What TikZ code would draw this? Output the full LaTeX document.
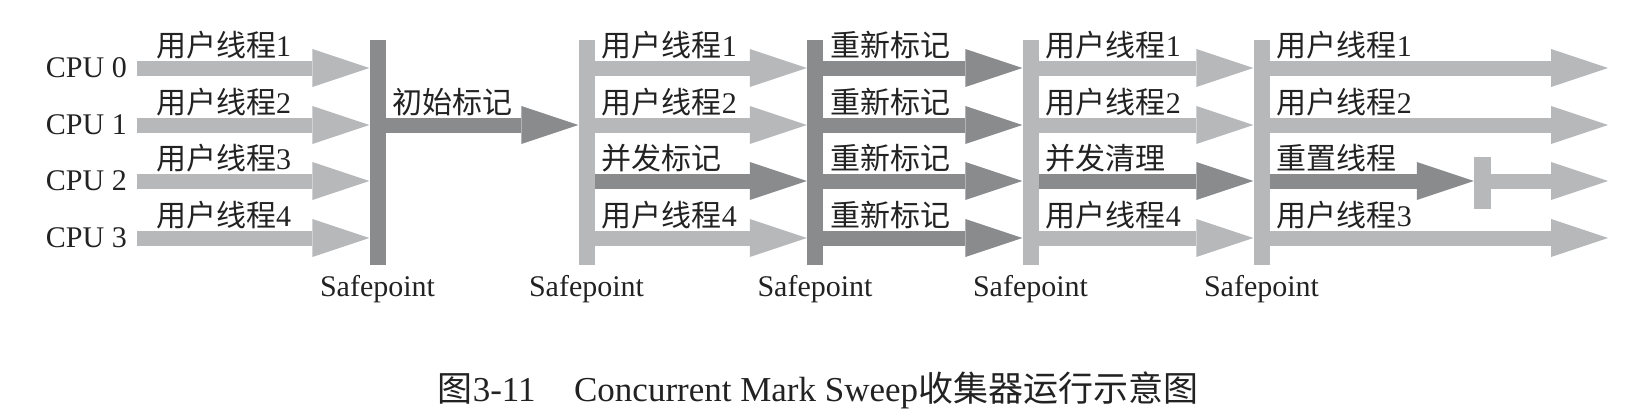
\documentclass[tikz,border=0pt]{standalone}
\usepackage{fontspec}
\setmainfont{Liberation Serif}
\newfontfamily\cjk{Noto Sans CJK SC}
\usepackage{tikz}
\usetikzlibrary{arrows.meta, positioning}
\definecolor{threadgray}{RGB}{182,184,186}
\definecolor{gcgray}{RGB}{138,139,141}
\definecolor{inkgray}{RGB}{34,34,34}

\begin{document}
\begin{tikzpicture}[x=1pt, y=-1pt,
        every node/.style={inner sep=0pt, text=inkgray, font=\fontsize{30}{35}\selectfont},
        bar/.style={minimum width=16pt, minimum height=225pt},
        thread/.style={line width=15pt, threadgray, -{Triangle[length=57pt, width=38pt, line width=0pt]}},
        gc/.style={thread, gcgray},
        tlabel/.style={anchor=west, xshift=7pt, yshift=23pt},
        cpu/.style={anchor=east, font=\fontsize{30}{34}\selectfont},
        sp/.style={below=10pt of #1, font=\fontsize{30}{34}\selectfont}
      ]
        \useasboundingbox (0,0) rectangle (1631,415);

        % Rows
        \coordinate (row_0) at (0,68);
        \coordinate (row_1) at (0,125);
        \coordinate (row_2) at (0,181);
        \coordinate (row_3) at (0,238);

        % CPU labels
        \node (cpu_0) [cpu] at (127,68) {CPU 0};
        \node (cpu_1) [cpu] at (127,125) {CPU 1};
        \node (cpu_2) [cpu] at (127,181) {CPU 2};
        \node (cpu_3) [cpu] at (127,238) {CPU 3};

        % Safepoint bars
        \node (sp_1) [bar, fill=gcgray] at (377.5,152.5) {};
        \node (sp_2) [bar, fill=threadgray] at (586.5,152.5) {};
        \node (sp_3) [bar, fill=gcgray] at (815,152.5) {};
        \node (sp_4) [bar, fill=threadgray] at (1030.5,152.5) {};
        \node (sp_5) [bar, fill=threadgray] at (1261.5,152.5) {};
        \node (halt) [fill=threadgray, minimum width=17pt, minimum height=52pt] at (1482.5,183) {};

        \node (sp_1_txt) [sp=sp_1] {Safepoint};
        \node (sp_2_txt) [sp=sp_2] {Safepoint};
        \node (sp_3_txt) [sp=sp_3] {Safepoint};
        \node (sp_4_txt) [sp=sp_4] {Safepoint};
        \node (sp_5_txt) [sp=sp_5] {Safepoint};

        % User threads up to the first safepoint
        \draw [thread, shorten <=10pt] (cpu_0.east) -- (sp_1.west |- row_0);
        \draw [thread, shorten <=10pt] (cpu_1.east) -- (sp_1.west |- row_1);
        \draw [thread, shorten <=10pt] (cpu_2.east) -- (sp_1.west |- row_2);
        \draw [thread, shorten <=10pt] (cpu_3.east) -- (sp_1.west |- row_3);
        \node [tlabel, xshift=22pt] at (cpu_0.east |- row_0) {{\cjk 用户线程}1};
        \node [tlabel, xshift=22pt] at (cpu_1.east |- row_1) {{\cjk 用户线程}2};
        \node [tlabel, xshift=22pt] at (cpu_2.east |- row_2) {{\cjk 用户线程}3};
        \node [tlabel, xshift=22pt] at (cpu_3.east |- row_3) {{\cjk 用户线程}4};

        % Initial mark
        \draw [gc] (sp_1.east |- row_1) -- (sp_2.west |- row_1);
        \node [tlabel] at (sp_1.east |- row_1) {\cjk 初始标记};

        % Concurrent mark
        \draw [thread] (sp_2.east |- row_0) -- (sp_3.west |- row_0);
        \draw [thread] (sp_2.east |- row_1) -- (sp_3.west |- row_1);
        \draw [gc] (sp_2.east |- row_2) -- (sp_3.west |- row_2);
        \draw [thread] (sp_2.east |- row_3) -- (sp_3.west |- row_3);
        \node [tlabel] at (sp_2.east |- row_0) {{\cjk 用户线程}1};
        \node [tlabel] at (sp_2.east |- row_1) {{\cjk 用户线程}2};
        \node [tlabel] at (sp_2.east |- row_2) {\cjk 并发标记};
        \node [tlabel] at (sp_2.east |- row_3) {{\cjk 用户线程}4};

        % Remark
        \draw [gc] (sp_3.east |- row_0) -- (sp_4.west |- row_0);
        \draw [gc] (sp_3.east |- row_1) -- (sp_4.west |- row_1);
        \draw [gc] (sp_3.east |- row_2) -- (sp_4.west |- row_2);
        \draw [gc] (sp_3.east |- row_3) -- (sp_4.west |- row_3);
        \node [tlabel] at (sp_3.east |- row_0) {\cjk 重新标记};
        \node [tlabel] at (sp_3.east |- row_1) {\cjk 重新标记};
        \node [tlabel] at (sp_3.east |- row_2) {\cjk 重新标记};
        \node [tlabel] at (sp_3.east |- row_3) {\cjk 重新标记};

        % Concurrent sweep
        \draw [thread] (sp_4.east |- row_0) -- (sp_5.west |- row_0);
        \draw [thread] (sp_4.east |- row_1) -- (sp_5.west |- row_1);
        \draw [gc] (sp_4.east |- row_2) -- (sp_5.west |- row_2);
        \draw [thread] (sp_4.east |- row_3) -- (sp_5.west |- row_3);
        \node [tlabel] at (sp_4.east |- row_0) {{\cjk 用户线程}1};
        \node [tlabel] at (sp_4.east |- row_1) {{\cjk 用户线程}2};
        \node [tlabel] at (sp_4.east |- row_2) {\cjk 并发清理};
        \node [tlabel] at (sp_4.east |- row_3) {{\cjk 用户线程}4};

        % Concurrent reset
        \coordinate (end_0) at (1608,68);
        \coordinate (end_1) at (1608,125);
        \coordinate (end_2) at (1608,181);
        \coordinate (end_3) at (1608,238);
        \draw [thread] (sp_5.east |- row_0) -- (end_0);
        \draw [thread] (sp_5.east |- row_1) -- (end_1);
        \draw [gc] (sp_5.east |- row_2) -- (halt.west |- row_2);
        \draw [thread] (halt.east |- row_2) -- (end_2);
        \draw [thread] (sp_5.east |- row_3) -- (end_3);
        \node [tlabel] at (sp_5.east |- row_0) {{\cjk 用户线程}1};
        \node [tlabel] at (sp_5.east |- row_1) {{\cjk 用户线程}2};
        \node [tlabel] at (sp_5.east |- row_2) {\cjk 重置线程};
        \node [tlabel] at (sp_5.east |- row_3) {{\cjk 用户线程}3};

        % Caption
        \node (caption) [font=\fontsize{35}{40}\selectfont] at (818,390) {{\cjk 图}3-11\hspace{1.1em}Concurrent Mark Sweep{\cjk 收集器运行示意图}};
      \end{tikzpicture}
\end{document}
